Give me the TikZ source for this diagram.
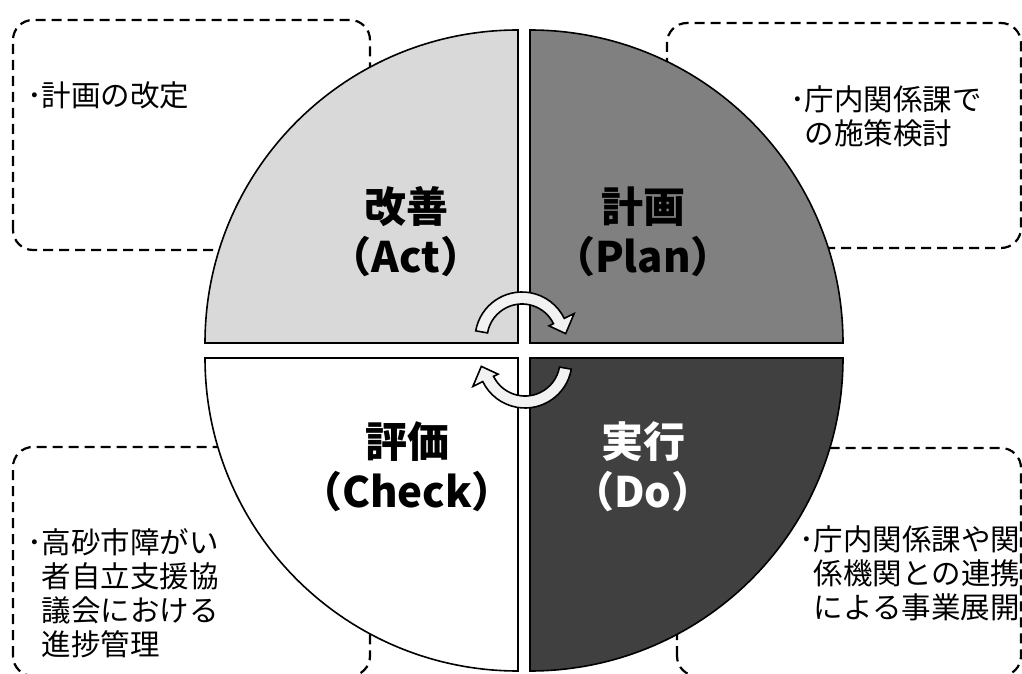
\documentclass[tikz,border=0pt]{standalone}
\usepackage{fontspec}
\setmainfont{Noto Sans CJK JP}
\definecolor{actgray}{HTML}{D9D9D9}
\definecolor{plangray}{HTML}{808080}
\definecolor{dogray}{HTML}{404040}
\definecolor{turnfill}{HTML}{F2F2F2}
\begin{document}
\begin{tikzpicture}[x=1pt,y=1pt,
	memo/.style={draw=black, line width=2.2pt, dash pattern=on 10pt off 6pt, rounded corners=20pt},
	quarter/.style={draw=black, line width=1.6pt},
	memotext/.style={anchor=west, align=left, inner sep=0pt, font=\fontsize{29.5}{34}\selectfont},
	phase/.style={align=center, inner sep=0pt, font=\fontsize{42}{50}\selectfont\bfseries},
	turn/.style={draw=black, line width=1.6pt, fill=turnfill}]
	\useasboundingbox (0,0) rectangle (1022,673);
	\draw[memo] (13,423) rectangle (370,653);
	\draw[memo] (667,425) rectangle (1021,650);
	\draw[memo] (13,-3) rectangle (370,226);
	\draw[memo] (677,-3) rectangle (1021,225);
	\draw[quarter, fill=actgray] (518,330) -- (205,330) arc[start angle=180, end angle=90, radius=313] -- cycle;
	\draw[quarter, fill=plangray] (530,330) -- (530,643) arc[start angle=90, end angle=0, radius=313] -- cycle;
	\draw[quarter, fill=white] (518,315) -- (518,2) arc[start angle=270, end angle=180, radius=313] -- cycle;
	\draw[quarter, fill=dogray] (530,315) -- (843,315) arc[start angle=0, end angle=-90, radius=313] -- cycle;
	\draw[turn, shift={(522,334)}] (170:47) arc[start angle=170, end angle=26, radius=47] -- (26:58) -- (7:44) -- (26:30) -- (26:35) arc[start angle=26, end angle=170, radius=35] -- cycle;
	\draw[turn, shift={(525,312)}] (350:47) arc[start angle=350, end angle=206, radius=47] -- (206:58) -- (187:44) -- (206:30) -- (206:35) arc[start angle=206, end angle=350, radius=35] -- cycle;
	\node[phase] (act) at (406,441) {改善\\（Act）};
	\node[phase] (plan) at (643,441) {計画\\（Plan）};
	\node[phase] (check) at (407,206) {評価\\（Check）};
	\node[phase, text=white] (do) at (643,206) {実行\\（Do）};
	\node[memotext] (actmemo) at (27,578) {･計画の改定};
	\node[memotext] (planmemo) at (790,557) {･庁内関係課で\\\hphantom{･}の施策検討};
	\node[memotext] (checkmemo) at (27,80) {･高砂市障がい\\\hphantom{･}者自立支援協\\\hphantom{･}議会における\\\hphantom{･}進捗管理};
	\node[memotext] (domemo) at (799,100) {･庁内関係課や関\\\hphantom{･}係機関との連携\\\hphantom{･}による事業展開};
\end{tikzpicture}
\end{document}
